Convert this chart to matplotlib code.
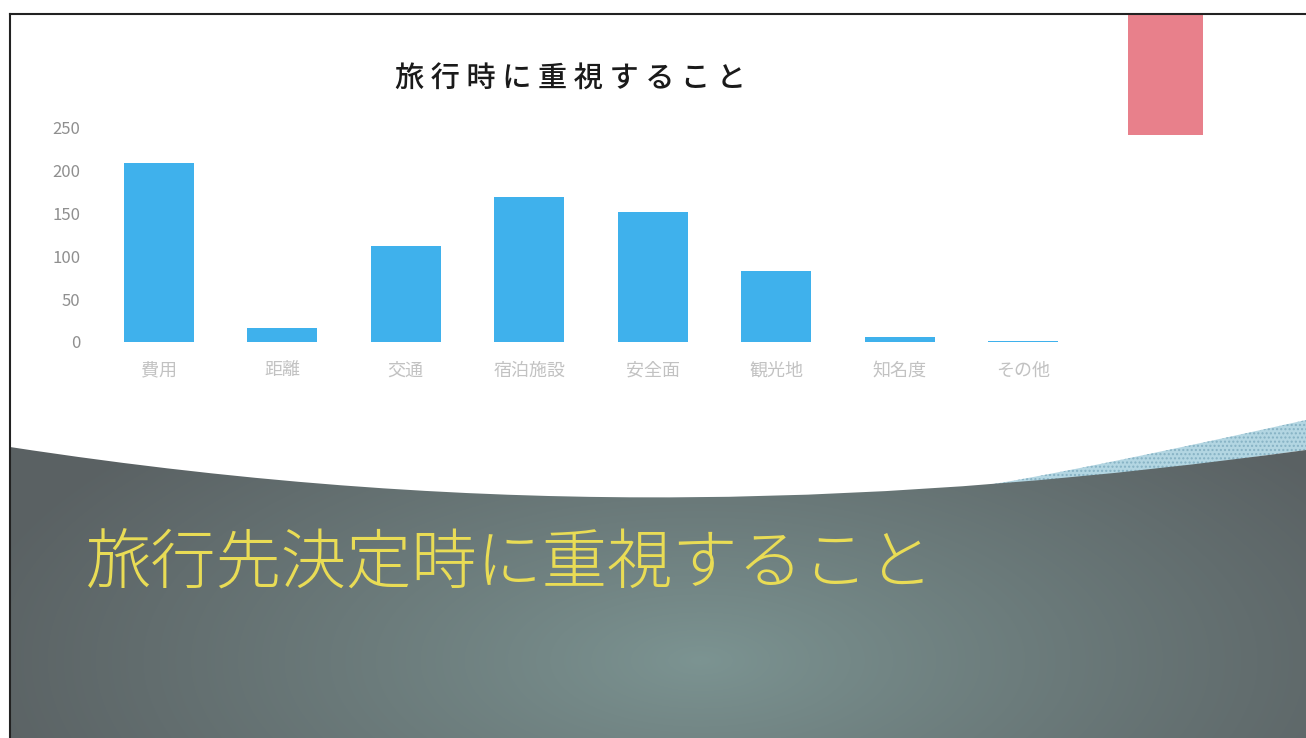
import numpy as np
import matplotlib.pyplot as plt
from matplotlib.path import Path
from matplotlib.patches import PathPatch, Rectangle

plt.rcParams['font.family'] = ['Noto Sans CJK JP', 'DejaVu Sans']

# データ
categories = ['費用', '距離', '交通', '宿泊施設', '安全面', '観光地', '知名度', 'その他']
counts = [209, 16, 112, 169, 152, 83, 6, 1]
y_ticks = [0, 50, 100, 150, 200, 250]

chart_title = '旅行時に重視すること'
slide_title = '旅行先決定時に重視すること'

W, H = 1306, 738
fig = plt.figure(figsize=(W / 100, H / 100), dpi=100)
fig.patch.set_facecolor('white')

# ---- slide background (pixel coordinates) ----
bg = fig.add_axes([0, 0, 1, 1])
bg.set_xlim(0, W)
bg.set_ylim(H, 0)
bg.axis('off')

# radial gradient for the dark lower part
yy, xx = np.mgrid[0:H, 0:W]
d = np.sqrt(((xx - 700) / 750.0) ** 2 + ((yy - 660) / 330.0) ** 2)
d = np.clip(d, 0, 1) ** 0.9
c_in = np.array([0x7c, 0x94, 0x92]) / 255
c_out = np.array([0x5a, 0x61, 0x63]) / 255
img = c_in[None, None, :] * (1 - d[..., None]) + c_out[None, None, :] * d[..., None]
im = bg.imshow(img, extent=(0, W, H, 0), zorder=1)

# curved upper edge of the dark area
verts = [(10, 447), (500, 522), (900, 505), (W, 450),
         (W, H), (10, H), (10, 447)]
codes = [Path.MOVETO, Path.CURVE4, Path.CURVE4, Path.CURVE4,
         Path.LINETO, Path.LINETO, Path.CLOSEPOLY]
clip = PathPatch(Path(verts, codes), transform=bg.transData,
                 facecolor='none', edgecolor='none')
bg.add_patch(clip)
im.set_clip_path(clip)

# light blue dotted band on the right
t = np.linspace(0, 1, 60)
bx = 980 + (W - 980) * t
upper = 486 - 66 * t ** 1.1
lower = 494 - 44 * t
bg.fill_between(bx, lower, upper, color='#b3d6e2', zorder=0.5,
                hatch='....', edgecolor='#86b2c4', linewidth=0)

# pink block top right
bg.add_patch(Rectangle((1128, 14), 75, 121, facecolor='#e8808b',
                       edgecolor='none', zorder=2))

# scan border
bg.plot([10, 10], [14, H], color='#222222', lw=1.5, zorder=3)
bg.plot([10, W], [14, 14], color='#222222', lw=1.5, zorder=3)

# slide heading
bg.text(86, 565, slide_title, color='#e9dc55', fontsize=47,
        fontweight='light', va='center', ha='left', zorder=4)

# chart title
bg.text(570, 78, ' '.join(chart_title), color='#1a1a1a', fontsize=21,
        fontweight='medium', va='center', ha='center', zorder=4)

# ---- bar chart ----
ax = fig.add_axes([97 / W, (H - 342) / H, 988 / W, 214 / H])
ax.patch.set_alpha(0)
x = np.arange(len(categories))
ax.bar(x, counts, width=0.57, color='#3fb1ec')
ax.set_xlim(-0.5, len(categories) - 0.5)
ax.set_ylim(0, 250)
ax.set_yticks(y_ticks)
ax.set_xticks(x)
ax.set_xticklabels(categories)
for s in ax.spines.values():
    s.set_visible(False)
ax.tick_params(axis='y', length=0, pad=12, labelsize=12, labelcolor='#8f8f8f')
ax.tick_params(axis='x', length=0, pad=14, labelsize=13, labelcolor='#c2c2c2')

fig.savefig('out.png', dpi=100)
